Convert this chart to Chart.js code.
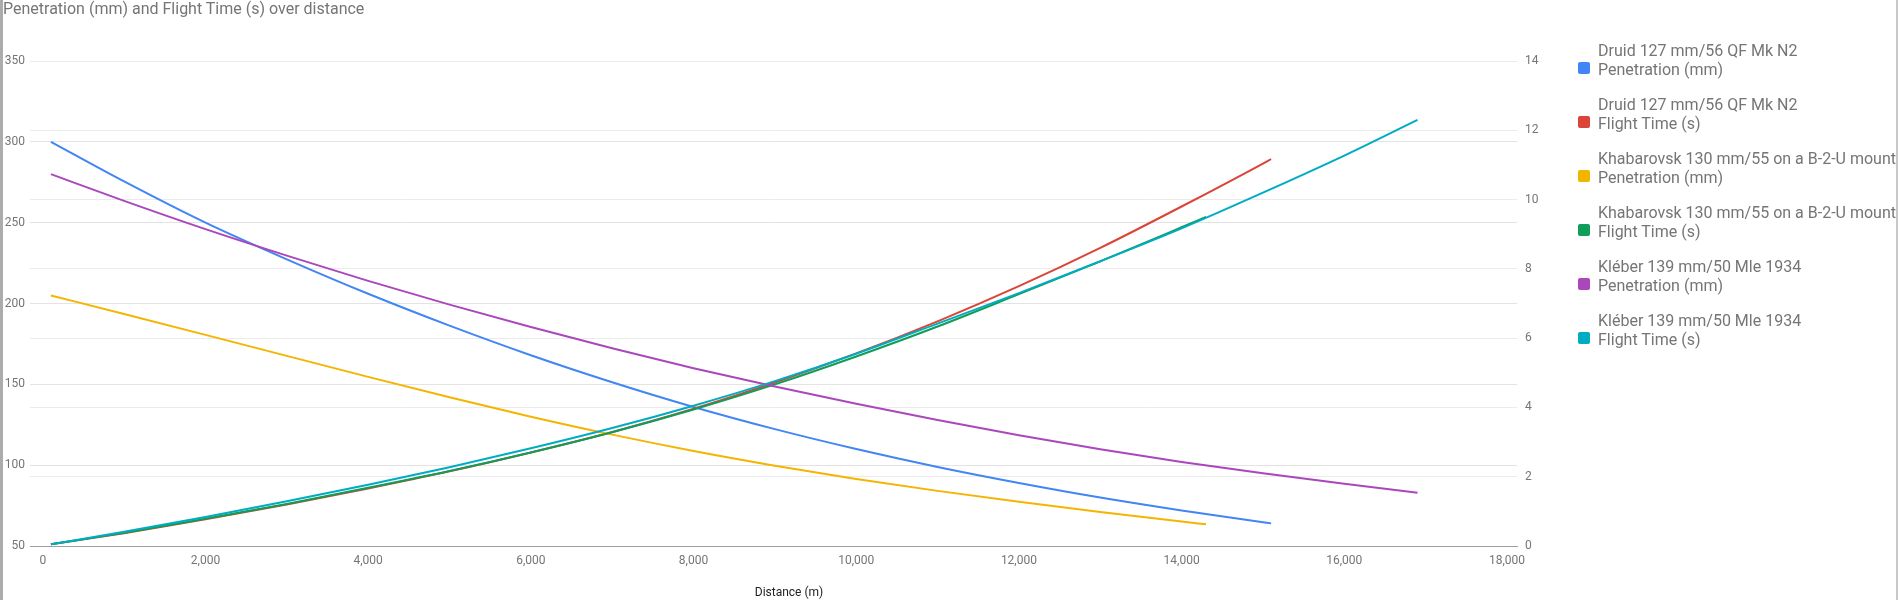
<!DOCTYPE html>
<html>
<head>
<meta charset="utf-8">
<script src="https://cdn.jsdelivr.net/npm/chart.js@4.4.1/dist/chart.umd.min.js"></script>
<style>
  html, body { margin: 0; padding: 0; background: #fff; overflow: hidden; }
  body { width: 1898px; height: 600px; position: relative; font-family: Roboto, "Noto Sans", sans-serif; }
  #chart { position: absolute; left: 0; top: 0; }
  #title { position: absolute; left: 3px; top: 0px; font-size: 16px; line-height: 18px; color: #757575; white-space: nowrap; }
  #xtitle { position: absolute; left: 689px; width: 200px; text-align: center; top: 584px; font-size: 12px; line-height: 16px; color: #222; white-space: nowrap; }
  #legend { position: absolute; left: 1578px; top: 41px; }
  .entry { position: relative; height: 54px; font-size: 16px; line-height: 19px; color: #757575; white-space: nowrap; }
  .entry .box { position: absolute; left: 0; top: 21px; width: 12px; height: 12px; border-radius: 2px; }
  .entry .txt { position: absolute; left: 20px; top: 0; }
  #edgeL { position: absolute; left: 0; top: 0; width: 3px; height: 600px; background: #acacac; }
  #edgeR { position: absolute; right: 0; top: 0; width: 2px; height: 600px; background: #c8c8c8; }
</style>
</head>
<body>
<canvas id="chart" width="1898" height="600"></canvas>
<div id="title"></div>
<div id="xtitle"></div>
<div id="legend"></div>
<div id="edgeL"></div>
<div id="edgeR"></div>
<script>
// ---- data ----
const chartTitle = "Penetration (mm) and Flight Time (s) over distance";
const xAxisTitle = "Distance (m)";

const distDruid  = [100,1000,2000,3000,4000,5000,6000,7000,8000,9000,10000,11000,12000,13000,14000,15000,15100];
const druidPen   = [300,275.5,250,227.3,206,186.3,168,151.3,136,122.3,110,98.9,89,80,72,64.7,64];
const druidTime  = [0.05,0.37,0.77,1.195,1.66,2.155,2.7,3.29,3.96,4.72,5.56,6.485,7.5,8.605,9.8,11.04,11.17];

const distKhab   = [100,1000,2000,3000,4000,5000,6000,7000,8000,9000,10000,11000,12000,13000,14000,14300];
const khabPen    = [205,193.5,180.6,167.6,154.6,142,130,118.9,108.8,99.7,91.5,84.1,77.3,71.0,65.1,63.4];
const khabTime   = [0.05,0.38,0.79,1.215,1.68,2.165,2.7,3.285,3.94,4.665,5.47,6.335,7.27,8.215,9.2,9.5];

const distKleber = [100,1000,2000,3000,4000,5000,6000,7000,8000,9000,10000,11000,12000,13000,14000,15000,16000,16900];
const kleberPen  = [280,263.5,246,229.6,214,199.3,185.5,172.3,160,148.6,138,127.9,118.5,109.9,102,95,88.5,83];
const kleberTime = [0.05,0.41,0.84,1.29,1.77,2.275,2.82,3.405,4.05,4.76,5.55,6.42,7.3,8.22,9.17,10.2,11.27,12.3];

const seriesNames = [
  ["Druid 127 mm/56 QF Mk N2", "Penetration (mm)"],
  ["Druid 127 mm/56 QF Mk N2", "Flight Time (s)"],
  ["Khabarovsk 130 mm/55 on a B-2-U mount", "Penetration (mm)"],
  ["Khabarovsk 130 mm/55 on a B-2-U mount", "Flight Time (s)"],
  ["Kléber 139 mm/50 Mle 1934", "Penetration (mm)"],
  ["Kléber 139 mm/50 Mle 1934", "Flight Time (s)"]
];
const seriesColors = ["#4285F4", "#DB4437", "#F4B400", "#0F9D58", "#AB47BC", "#00ACC1"];
const xTicks = [0,2000,4000,6000,8000,10000,12000,14000,16000,18000];

// ---- build chart ----
const xs = [distDruid, distDruid, distKhab, distKhab, distKleber, distKleber];
const ys = [druidPen, druidTime, khabPen, khabTime, kleberPen, kleberTime];
const axes = ["yL", "yR", "yL", "yR", "yL", "yR"];

const datasets = ys.map((vals, i) => ({
  label: seriesNames[i].join(" "),
  data: vals.map((v, j) => ({ x: xs[i][j], y: v })),
  yAxisID: axes[i],
  borderColor: seriesColors[i],
  backgroundColor: seriesColors[i],
  borderWidth: 2,
  pointRadius: 0,
  fill: false,
  cubicInterpolationMode: "monotone",
  order: ys.length - 1 - i
}));

document.getElementById("title").textContent = chartTitle;
document.getElementById("xtitle").textContent = xAxisTitle;
const legend = document.getElementById("legend");
seriesNames.forEach((n, i) => {
  const e = document.createElement("div");
  e.className = "entry";
  const b = document.createElement("div");
  b.className = "box";
  b.style.background = seriesColors[i];
  const t = document.createElement("div");
  t.className = "txt";
  t.innerHTML = n[0] + "<br>" + n[1];
  e.appendChild(b); e.appendChild(t);
  legend.appendChild(e);
});

const tickFont = { family: "Roboto", size: 12 };
new Chart(document.getElementById("chart"), {
  type: "line",
  data: { datasets },
  options: {
    responsive: false,
    animation: false,
    devicePixelRatio: 1,
    layout: { padding: { top: 61, right: 331, left: 0, bottom: 0 } },
    plugins: { legend: { display: false }, title: { display: false }, tooltip: { enabled: false } },
    scales: {
      x: {
        type: "linear",
        min: -157,
        max: 18123,
        afterBuildTicks: (s) => { s.ticks = xTicks.map(v => ({ value: v })); },
        afterFit: (s) => { s.height = 54; },
        grid: { display: false, drawTicks: false },
        border: { display: true, color: "#9e9e9e", width: 1 },
        ticks: { font: tickFont, color: "#757575", padding: 8, maxRotation: 0, autoSkip: false,
                 callback: (v) => Number(v).toLocaleString("en-US") },
        title: { display: false }
      },
      yL: {
        type: "linear",
        position: "left",
        min: 50, max: 350,
        afterFit: (s) => { s.width = 30; },
        ticks: { stepSize: 50, font: tickFont, color: "#757575", padding: 5 },
        grid: { color: (c) => c.tick && c.tick.value === 50 ? "#9e9e9e" : "#e3e3e3", drawTicks: false },
        border: { display: false }
      },
      yR: {
        type: "linear",
        position: "right",
        min: 0, max: 14,
        afterFit: (s) => { s.width = 50; },
        ticks: { stepSize: 2, font: tickFont, color: "#757575", padding: 8 },
        grid: { color: (c) => c.tick && c.tick.value === 0 ? "#9e9e9e" : "#ebebeb", drawTicks: false },
        border: { display: false }
      }
    }
  }
});
</script>
</body>
</html>
